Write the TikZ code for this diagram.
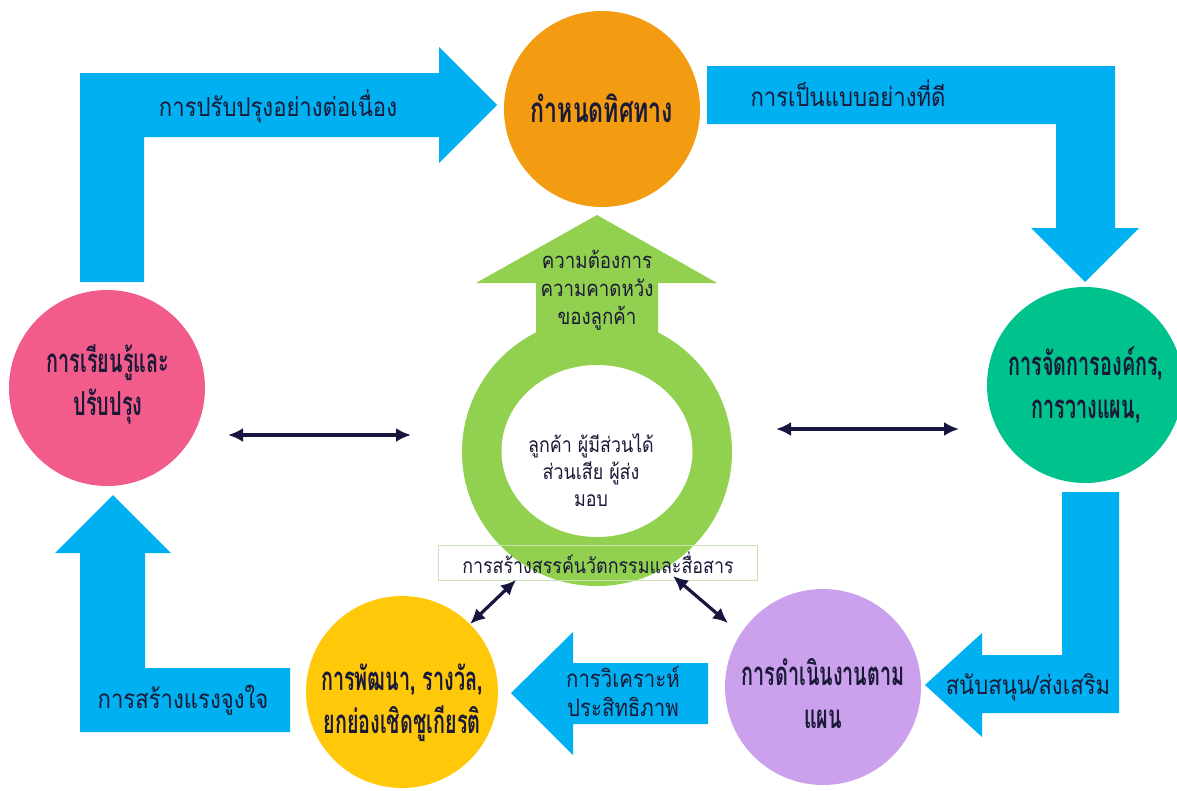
\documentclass[tikz,border=0pt]{standalone}
\usepackage{fontspec}
\usetikzlibrary{arrows.meta,shapes.geometric}
\newfontfamily\thaiarr[Script=Thai,FakeStretch=0.85]{Loma}
\newfontfamily\thaicirc[Script=Thai,FakeStretch=0.60]{Loma}
\newfontfamily\thaidir[Script=Thai,FakeStretch=0.66]{Loma}
\definecolor{skyblue}{HTML}{00B0F0}
\definecolor{orng}{HTML}{F39C12}
\definecolor{pinkc}{HTML}{F25C8A}
\definecolor{greenc}{HTML}{00C28C}
\definecolor{yellowc}{HTML}{FFC90A}
\definecolor{purplec}{HTML}{CBA0EC}
\definecolor{lgreen}{HTML}{92D050}
\definecolor{navy}{HTML}{16163F}
\definecolor{txt}{HTML}{1A1A38}
\definecolor{boxline}{HTML}{C9E3B5}
\tikzset{
  bub/.style={circle, inner sep=0pt, minimum size=196pt},
  bubtext/.style={align=center, text=txt, inner sep=0pt, font=\thaicirc\bfseries\fontsize{33}{43}\selectfont},
  arrtext/.style={align=center, text=txt, inner sep=0pt, font=\thaiarr\fontsize{26}{29}\selectfont},
  dbl/.style={draw=navy, line width=3.2pt, {Latex[length=15pt,width=14pt]}-{Latex[length=15pt,width=14pt]}},
}
\begin{document}
\begin{tikzpicture}[x=1pt,y=-1pt]
\useasboundingbox (0,0) rectangle (1177,790);
\fill[white] (0,0) rectangle (1177,790);

% blue arrows
\fill[skyblue] (80,282) -- (80,73) -- (439,73) -- (439,47) -- (497,105) -- (439,163) -- (439,137) -- (144,137) -- (144,282) -- cycle;
\fill[skyblue] (707,66) -- (1115,66) -- (1115,228) -- (1139,228) -- (1085,282) -- (1031,228) -- (1056,228) -- (1056,124) -- (707,124) -- cycle;
\fill[skyblue] (1062,492) -- (1119,492) -- (1119,713) -- (982,713) -- (982,737) -- (925,685) -- (982,633) -- (982,655) -- (1062,655) -- cycle;
\fill[skyblue] (708,663) -- (708,724) -- (573,724) -- (573,755) -- (511,693) -- (573,632) -- (573,663) -- cycle;
\fill[skyblue] (290,668) -- (290,732) -- (80,732) -- (80,553) -- (55,553) -- (113,495) -- (171,553) -- (145,553) -- (145,668) -- cycle;

% circles
\node[bub, fill=orng] (dir) at (602,109) {};
\node[bub, fill=pinkc] (learn) at (107,388) {};
\node[bub, fill=greenc] (org) at (1085,385) {};
\node[bub, fill=yellowc, minimum size=192pt] (dev) at (402,692) {};
\node[bub, fill=purplec] (run) at (823,687) {};

% green centre arrow and ring
\fill[lgreen] (536,360) -- (536,283) -- (476,283) -- (597,215) -- (717,283) -- (658,283) -- (658,360) -- cycle;
\node[ellipse, fill=lgreen, inner sep=0pt, minimum width=270pt, minimum height=268pt] (ring) at (597,452) {};
\node[ellipse, fill=white, inner sep=0pt, minimum width=191pt, minimum height=172pt] (core) at (597,451) {};
\node[draw=boxline, line width=1pt, inner sep=0pt, minimum width=319pt, minimum height=35pt] (box) at (597.5,562.5) {};

% circle labels
\node[bubtext, font=\thaidir\bfseries\fontsize{35}{43}\selectfont] (tdir) at (602,108) {กำหนดทิศทาง};
\node[bubtext] (tlearn) at (108,384) {การเรียนรู้และ\\ปรับปรุง};
\node[bubtext] (torg) at (1086,385) {การจัดการองค์กร,\\การวางแผน,};
\node[bubtext] (tdev) at (402,703) {การพัฒนา, รางวัล,\\ยกย่องเชิดชูเกียรติ};
\node[bubtext] (trun) at (823,694) {การดำเนินงานตาม\\แผน};

% arrow labels
\node[arrtext] (a1) at (278,107) {การปรับปรุงอย่างต่อเนื่อง};
\node[arrtext] (a2) at (848,93) {การเป็นแบบอย่างที่ดี};
\node[arrtext] (a3) at (1028,687) {สนับสนุน/ส่งเสริม};
\node[arrtext, font=\thaiarr\fontsize{24}{29}\selectfont] (a4) at (623,692) {การวิเคราะห์\\ประสิทธิภาพ};
\node[arrtext] (a5) at (183,700) {การสร้างแรงจูงใจ};

% centre labels
\node[align=center, text=txt, inner sep=0pt, font=\thaiarr\fontsize{22}{28}\selectfont] (need) at (597,290) {ความต้องการ\\ความคาดหวัง\\ของลูกค้า};
\node[align=center, text=txt, inner sep=0pt, font=\thaiarr\fontsize{21}{27}\selectfont] (cust) at (591,470) {ลูกค้า ผู้มีส่วนได้\\ส่วนเสีย ผู้ส่ง\\มอบ};
\node[text=txt, inner sep=0pt, font=\thaiarr\fontsize{21}{27}\selectfont] (innov) at (598,563) {การสร้างสรรค์นวัตกรรมและสื่อสาร};

% double arrows
\coordinate (l1) at (228,435);
\coordinate (l2) at (411,435);
\coordinate (r1) at (776,429);
\coordinate (r2) at (959,429);
\coordinate (d1) at (516,580);
\coordinate (d2) at (673,576);
\coordinate (d3) at (728,623);
\draw[dbl] (l1) -- (l2);
\draw[dbl] (r1) -- (r2);
\draw[dbl] (d1) -- (dev.45);
\draw[dbl] (d2) -- (d3);
\end{tikzpicture}
\end{document}
